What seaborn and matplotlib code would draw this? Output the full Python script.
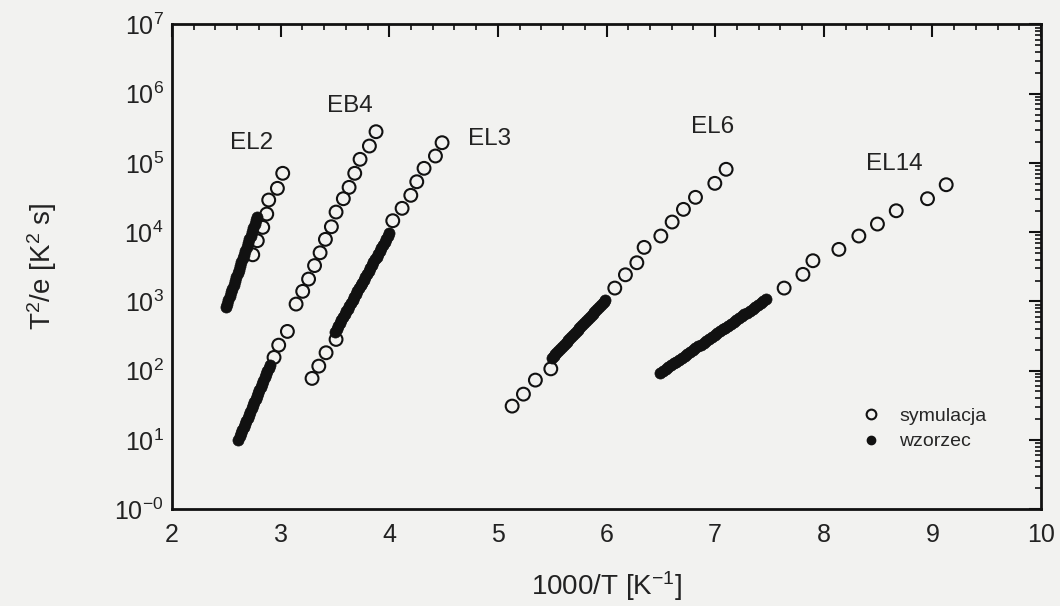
import numpy as np
import pandas as pd
import matplotlib
matplotlib.use("Agg")
import matplotlib.pyplot as plt
from matplotlib.ticker import FixedLocator, LogLocator, MultipleLocator, NullFormatter
from matplotlib.lines import Line2D
import seaborn as sns

# ---------------- data ----------------
# simulation (open circles)
el2_sim_x = [2.743, 2.785, 2.835, 2.872, 2.890, 2.970, 3.019]
el2_sim_y = [4710, 7516, 11720, 18280, 29110, 42960, 70800]

eb4_sim_x = [2.939, 2.982, 3.062, 3.142, 3.203, 3.257, 3.312, 3.363, 3.412,
             3.467, 3.510, 3.577, 3.630, 3.682, 3.731, 3.817, 3.878]
eb4_sim_y = [155, 233, 368, 914, 1396, 2099, 3289, 5035, 7870,
             11970, 19500, 30410, 44360, 70800, 112700, 175400, 282500]

el3_sim_x = [3.289, 3.351, 3.418, 3.510, 4.032, 4.118, 4.198, 4.253, 4.320, 4.425, 4.486]
el3_sim_y = [77.1, 116, 181, 282, 14620, 22080, 34040, 53460, 83560, 125900, 195900]

el6_sim_x = [5.131, 5.235, 5.345, 5.487, 6.076, 6.174, 6.279, 6.346, 6.500,
             6.604, 6.708, 6.819, 6.997, 7.101]
el6_sim_y = [30.7, 45.7, 72.9, 106, 1556, 2421, 3614, 6026, 8790,
             14000, 21330, 31840, 50700, 80910]

el14_sim_x = [7.635, 7.808, 7.900, 8.139, 8.323, 8.494, 8.667, 8.955, 9.127]
el14_sim_y = [1556, 2455, 3864, 5636, 8790, 13090, 20370, 30410, 48420]

# reference (filled dots)
el2_ref_x = [2.494, 2.505, 2.518, 2.530, 2.541, 2.554, 2.566, 2.578, 2.590, 2.603,
             2.615, 2.627, 2.639, 2.651, 2.663, 2.676, 2.688, 2.700, 2.712, 2.724,
             2.736, 2.748, 2.760, 2.773, 2.785]
el2_ref_y = [820, 920, 1060, 1190, 1350, 1530, 1740, 1950, 2240, 2540,
             2850, 3270, 3670, 4170, 4730, 5370, 6100, 6920, 7850, 8910,
             10100, 11500, 13000, 14800, 16700]

eb4_ref_x = [2.611, 2.623, 2.635, 2.647, 2.660, 2.672, 2.684, 2.696, 2.708, 2.720,
             2.732, 2.744, 2.757, 2.769, 2.781, 2.793, 2.805, 2.817, 2.829, 2.841,
             2.854, 2.866, 2.878, 2.890, 2.902]
eb4_ref_y = [10.1, 11.2, 12.4, 13.8, 15.3, 17.0, 18.8, 20.8, 23.1, 25.6,
             28.4, 31.5, 34.9, 38.7, 42.9, 47.5, 52.7, 58.4, 64.7, 71.8,
             79.6, 88.3, 97.7, 108, 120]

el3_ref_x = [3.501, 3.516, 3.530, 3.545, 3.560, 3.575, 3.589, 3.604, 3.619, 3.633,
             3.648, 3.663, 3.678, 3.692, 3.707, 3.722, 3.736, 3.751, 3.766, 3.781,
             3.795, 3.810, 3.825, 3.839, 3.854, 3.869, 3.884, 3.898, 3.913, 3.928,
             3.942, 3.957, 3.972, 3.987, 4.001]
el3_ref_y = [364, 401, 442, 485, 535, 589, 649, 714, 787, 865,
             953, 1050, 1156, 1274, 1403, 1542, 1698, 1871, 2061, 2270,
             2495, 2748, 3027, 3334, 3673, 4046, 4446, 4898, 5395, 5943,
             6546, 7194, 7925, 8730, 9616]

el6_ref_x = [5.496, 5.513, 5.530, 5.547, 5.564, 5.581, 5.598, 5.615, 5.632, 5.649,
             5.666, 5.683, 5.700, 5.717, 5.734, 5.751, 5.768, 5.785, 5.802, 5.819,
             5.837, 5.854, 5.871, 5.888, 5.905, 5.922, 5.939, 5.956, 5.973, 5.990]
el6_ref_y = [150, 160, 171, 183, 196, 209, 224, 239, 256, 274,
             293, 313, 335, 358, 383, 409, 438, 468, 501, 535,
             573, 612, 655, 700, 748, 800, 855, 914, 977, 1045]

el14_ref_x = [6.494, 6.519, 6.544, 6.569, 6.594, 6.619, 6.644, 6.669, 6.694, 6.719,
              6.744, 6.769, 6.794, 6.819, 6.844, 6.869, 6.894, 6.919, 6.944, 6.969,
              6.994, 7.019, 7.044, 7.069, 7.094, 7.119, 7.144, 7.169, 7.194, 7.219,
              7.244, 7.269, 7.294, 7.319, 7.344, 7.369, 7.394, 7.419, 7.444, 7.470]
el14_ref_y = [92.9, 98.9, 105, 112, 119, 127, 135, 144, 153, 163,
              174, 185, 197, 210, 223, 238, 253, 270, 287, 305,
              325, 346, 369, 393, 418, 445, 474, 505, 537, 571,
              610, 649, 690, 735, 782, 832, 887, 944, 1005, 1069]

level_names = ["EL2", "EB4", "EL3", "EL6", "EL14"]
label_x = [2.73, 3.64, 4.92, 6.98, 8.65]
label_y = [1.95e5, 6.6e5, 2.2e5, 3.3e5, 0.95e5]

ytick_vals = [1, 10, 100, 1e3, 1e4, 1e5, 1e6, 1e7]
ytick_labels = ["$10^{-0}$", "$10^{1}$", "$10^{2}$", "$10^{3}$",
                "$10^{4}$", "$10^{5}$", "$10^{6}$", "$10^{7}$"]
xtick_vals = [2, 3, 4, 5, 6, 7, 8, 9, 10]

sim = pd.DataFrame({
    "x": el2_sim_x + eb4_sim_x + el3_sim_x + el6_sim_x + el14_sim_x,
    "y": el2_sim_y + eb4_sim_y + el3_sim_y + el6_sim_y + el14_sim_y,
})
ref = pd.DataFrame({
    "x": el2_ref_x + eb4_ref_x + el3_ref_x + el6_ref_x + el14_ref_x,
    "y": el2_ref_y + eb4_ref_y + el3_ref_y + el6_ref_y + el14_ref_y,
})

# ---------------- style ----------------
sns.set_theme(style="white")
bg = "#f2f2f0"
plt.rcParams["font.family"] = ["Liberation Sans", "DejaVu Sans"]
plt.rcParams["mathtext.fontset"] = "custom"
plt.rcParams["mathtext.rm"] = "Liberation Sans"
plt.rcParams["mathtext.it"] = "Liberation Sans:italic"
plt.rcParams["mathtext.bf"] = "Liberation Sans:bold"

fig = plt.figure(figsize=(10.6, 6.06), dpi=100, facecolor=bg)
ax = fig.add_axes([0.1623, 0.160, 0.8198, 0.7996])
ax.set_facecolor(bg)

sns.scatterplot(data=ref, x="x", y="y", ax=ax, marker="o", s=64,
                color="#111111", edgecolor="#111111", linewidth=0.5, zorder=3)
sns.scatterplot(data=sim, x="x", y="y", ax=ax, marker="o", s=85,
                color="#111111", edgecolor="#111111", linewidth=1.5, zorder=4)
ax.collections[-1].set_facecolor("none")

ax.set_yscale("log")
ax.set_xlim(2, 10)
ax.set_ylim(1, 1e7)

for name, lx, ly in zip(level_names, label_x, label_y):
    ax.text(lx, ly, name, fontsize=17.5, ha="center", va="center", color="#222222")

ax.xaxis.set_major_locator(FixedLocator(xtick_vals))
ax.xaxis.set_minor_locator(MultipleLocator(0.2))
ax.set_xticklabels([str(v) for v in xtick_vals])
ax.yaxis.set_major_locator(FixedLocator(ytick_vals))
ax.yaxis.set_minor_locator(LogLocator(base=10, subs=np.arange(2, 10), numticks=20))
ax.yaxis.set_minor_formatter(NullFormatter())
ax.set_yticklabels(ytick_labels)

ax.tick_params(axis="both", which="both", direction="in", top=True, right=True,
               color="#111111")
ax.tick_params(axis="both", which="major", length=9, width=1.5, labelsize=18,
               labelcolor="#222222")
ax.tick_params(axis="both", which="minor", length=4.5, width=1.2)
ax.tick_params(axis="x", which="major", pad=10)
ax.tick_params(axis="y", which="major", pad=6)

for sp in ax.spines.values():
    sp.set_visible(True)
    sp.set_linewidth(2)
    sp.set_color("#111111")

ax.set_xlabel("1000/T [K$^{-1}$]", fontsize=20, color="#222222", labelpad=16)
ax.set_ylabel("T$^2$/e [K$^2$ s]", fontsize=20, color="#222222", labelpad=40)

handles = [
    Line2D([], [], linestyle="none", marker="o", markersize=7, markerfacecolor="none",
           markeredgecolor="#111111", markeredgewidth=1.5),
    Line2D([], [], linestyle="none", marker="o", markersize=6, markerfacecolor="#111111",
           markeredgecolor="#111111"),
]
ax.legend(handles, ["symulacja", "wzorzec"], loc="lower right", frameon=False,
          fontsize=14, handletextpad=0.45, labelspacing=0.4,
          bbox_to_anchor=(0.957, 0.085))

fig.savefig("out.png", dpi=100, facecolor=bg)
